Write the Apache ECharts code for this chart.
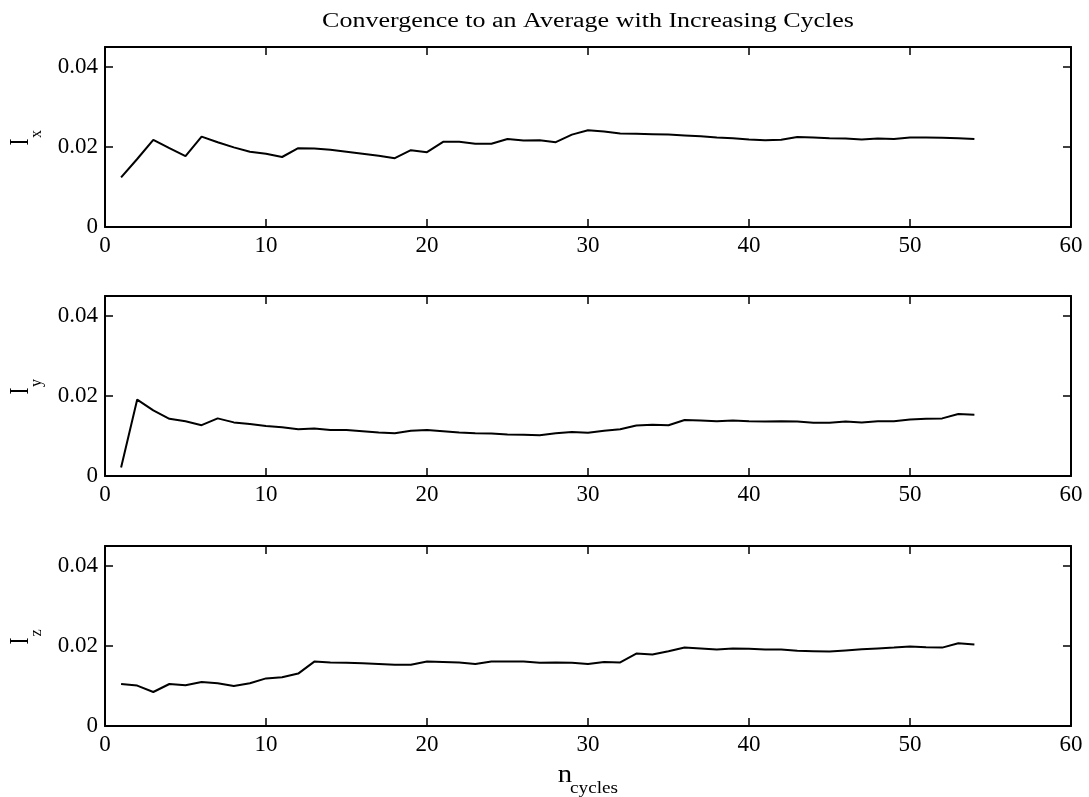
<!DOCTYPE html>
<html>
<head>
<meta charset="utf-8">
<script src="https://cdn.jsdelivr.net/npm/echarts@6/dist/echarts.min.js"></script>
<style>
  html, body { margin: 0; padding: 0; background: #fff; }
  #chart { width: 1089px; height: 797px; }
</style>
</head>
<body>
<div id="chart"></div>
<script>
// Running averages of the three components against the number of cycles
const cycles = [];
for (let i = 1; i <= 54; i++) cycles.push(i);

const ix = [0.0124, 0.0170, 0.0218, 0.0197, 0.0177, 0.0226, 0.0212, 0.0199, 0.0188, 0.0183,
            0.0175, 0.0197, 0.0196, 0.0193, 0.0188, 0.0183, 0.0178, 0.0172, 0.0192, 0.0187,
            0.0213, 0.0213, 0.0208, 0.0208, 0.0220, 0.0216, 0.0217, 0.0212, 0.0231, 0.0242,
            0.0239, 0.0234, 0.0233, 0.0232, 0.0231, 0.0229, 0.0227, 0.0224, 0.0222, 0.0219,
            0.0217, 0.0218, 0.0225, 0.0224, 0.0222, 0.0221, 0.0219, 0.0221, 0.0220, 0.0224,
            0.0224, 0.0223, 0.0222, 0.0220];

const iy = [0.0021, 0.0191, 0.0164, 0.0143, 0.0137, 0.0127, 0.0144, 0.0134, 0.0130, 0.0125,
            0.0122, 0.0117, 0.0119, 0.0115, 0.0115, 0.0112, 0.0109, 0.0107, 0.0113, 0.0115,
            0.0112, 0.0109, 0.0107, 0.0106, 0.0104, 0.0103, 0.0102, 0.0107, 0.0110, 0.0108,
            0.0113, 0.0117, 0.0126, 0.0128, 0.0127, 0.0140, 0.0139, 0.0137, 0.0139, 0.0137,
            0.0136, 0.0137, 0.0136, 0.0133, 0.0133, 0.0136, 0.0134, 0.0137, 0.0137, 0.0141,
            0.0143, 0.0144, 0.0155, 0.0153];

const iz = [0.0105, 0.0101, 0.0085, 0.0105, 0.0102, 0.0110, 0.0107, 0.0100, 0.0107, 0.0119,
            0.0122, 0.0131, 0.0161, 0.0159, 0.0158, 0.0157, 0.0155, 0.0153, 0.0153, 0.0161,
            0.0160, 0.0159, 0.0155, 0.0161, 0.0161, 0.0161, 0.0158, 0.0159, 0.0158, 0.0155,
            0.0160, 0.0159, 0.0181, 0.0179, 0.0187, 0.0196, 0.0194, 0.0191, 0.0194, 0.0193,
            0.0191, 0.0191, 0.0188, 0.0187, 0.0186, 0.0189, 0.0192, 0.0194, 0.0196, 0.0199,
            0.0197, 0.0196, 0.0207, 0.0204];

const xTicks = [0, 10, 20, 30, 40, 50, 60];
const yTicks = [0, 0.02, 0.04];
const yTickLabels = ['0', '0.02', '0.04'];
const panelNames = ['x', 'y', 'z'];
const panelData = [ix, iy, iz];

const FONT = '"Liberation Serif", "Times New Roman", serif';
const gridTops = [47, 296, 546];
const gridHeight = 180;

const grids = [], xAxes = [], yAxes = [], series = [], graphics = [];

panelData.forEach((vals, k) => {
  grids.push({ left: 105, right: 18, top: gridTops[k], height: gridHeight, containLabel: false });

  const tickStyle = { show: true, inside: true, length: 8, lineStyle: { color: '#000', width: 1.5 } };
  const lineStyle = { show: true, onZero: false, lineStyle: { color: '#000', width: 2 } };

  // bottom axis with labels
  xAxes.push({
    type: 'value', gridIndex: k, min: 0, max: 60, position: 'bottom',
    axisLine: lineStyle,
    axisTick: Object.assign({}, tickStyle, { customValues: xTicks }),
    axisLabel: { customValues: xTicks, color: '#000', fontFamily: FONT, fontSize: 23, margin: 7 },
    splitLine: { show: false }
  });
  // top edge of the box
  xAxes.push({
    type: 'value', gridIndex: k, min: 0, max: 60, position: 'top',
    axisLine: lineStyle,
    axisTick: Object.assign({}, tickStyle, { customValues: xTicks }),
    axisLabel: { show: false },
    splitLine: { show: false }
  });
  // left axis with labels
  yAxes.push({
    type: 'value', gridIndex: k, min: 0, max: 0.045, position: 'left',
    axisLine: lineStyle,
    axisTick: Object.assign({}, tickStyle, { customValues: yTicks }),
    axisLabel: {
      customValues: yTicks, color: '#000', fontFamily: FONT, fontSize: 23, margin: 7,
      padding: [6, 0, 0, 0],
      formatter: v => yTickLabels[yTicks.findIndex(t => Math.abs(t - v) < 1e-9)] ?? ''
    },
    splitLine: { show: false }
  });
  // right edge of the box
  yAxes.push({
    type: 'value', gridIndex: k, min: 0, max: 0.045, position: 'right',
    axisLine: lineStyle,
    axisTick: Object.assign({}, tickStyle, { customValues: yTicks }),
    axisLabel: { show: false },
    splitLine: { show: false }
  });

  series.push({
    type: 'line',
    xAxisIndex: 2 * k,
    yAxisIndex: 2 * k,
    data: cycles.map((c, i) => [c, vals[i]]),
    showSymbol: false,
    symbol: 'none',
    lineStyle: { color: '#000', width: 2 },
    animation: false
  });

  // rotated y label: I with subscript
  const cy = gridTops[k] + gridHeight / 2 + 5;
  graphics.push({
    type: 'text', x: 21, y: cy, rotation: Math.PI / 2, scaleY: 1.25,
    style: { text: 'I', font: '21px ' + FONT, fill: '#000', align: 'center', verticalAlign: 'middle' }
  });
  graphics.push({
    type: 'text', x: 37, y: cy - 8, rotation: Math.PI / 2,
    style: { text: panelNames[k], font: '16px ' + FONT, fill: '#000', align: 'center', verticalAlign: 'middle' }
  });
});

// x label: n with subscript
graphics.push({
  type: 'text', x: 565, y: 775, scaleX: 1.15,
  style: { text: 'n', font: '25px ' + FONT, fill: '#000', align: 'center', verticalAlign: 'middle' }
});
graphics.push({
  type: 'text', x: 594, y: 789, scaleX: 1.2,
  style: { text: 'cycles', font: '16px ' + FONT, fill: '#000', align: 'center', verticalAlign: 'middle' }
});

// figure title
graphics.push({
  type: 'text', x: 588, y: 22, scaleX: 1.3,
  style: {
    text: 'Convergence to an Average with Increasing Cycles',
    font: '20px ' + FONT, fill: '#000', align: 'center', verticalAlign: 'middle'
  }
});

const chart = echarts.init(document.getElementById('chart'), null, { renderer: 'canvas' });
chart.setOption({
  backgroundColor: '#fff',
  animation: false,
  grid: grids,
  xAxis: xAxes,
  yAxis: yAxes,
  series: series,
  graphic: graphics
});
</script>
</body>
</html>
